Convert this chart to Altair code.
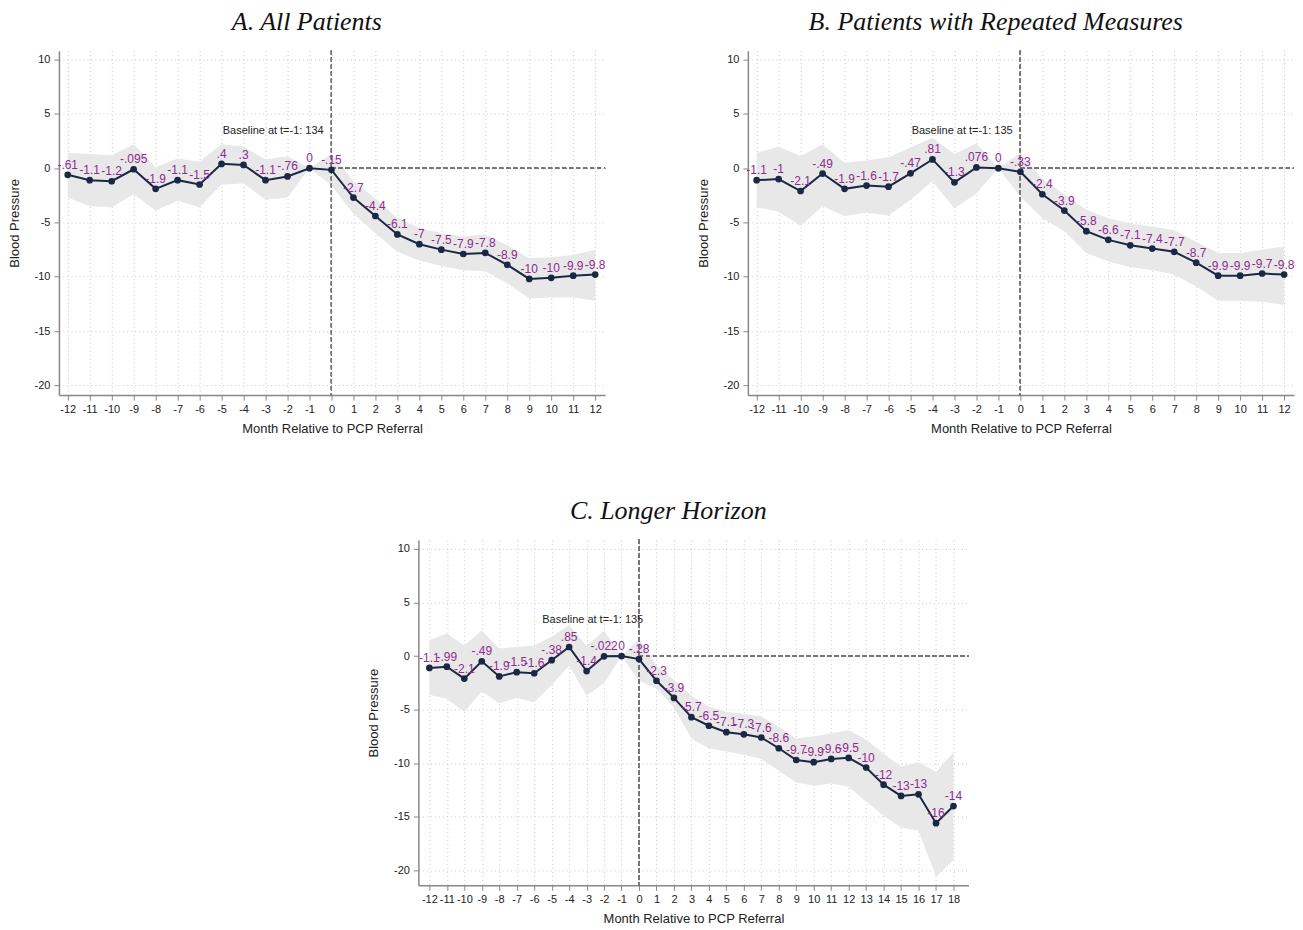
import altair as alt
import pandas as pd

# ---------------- Panel A: All Patients ----------------
months_a = list(range(-12, 13))
coef_a = [-0.61, -1.1, -1.2, -0.095, -1.9, -1.1, -1.5, 0.4, 0.3, -1.1, -0.76, 0.0, -0.15,
          -2.7, -4.4, -6.1, -7.0, -7.5, -7.9, -7.8, -8.9, -10.2, -10.1, -9.9, -9.8]
lab_a = ["-.61", "-1.1", "-1.2", "-.095", "-1.9", "-1.1", "-1.5", ".4", ".3", "-1.1", "-.76", "0", "-.15",
         "-2.7", "-4.4", "-6.1", "-7", "-7.5", "-7.9", "-7.8", "-8.9", "-10", "-10", "-9.9", "-9.8"]
hi_a = [1.4, 1.3, 1.2, 2.2, 0.1, 0.9, 0.6, 2.2, 2.0, 0.8, 1.1, 0.0, 1.3,
        -1.2, -2.8, -4.6, -5.5, -6.0, -6.3, -6.1, -7.1, -8.3, -8.2, -8.0, -7.5]
lo_a = [-2.7, -3.5, -3.6, -2.4, -3.9, -3.0, -3.6, -1.5, -1.4, -2.9, -2.7, 0.0, -1.6,
        -4.2, -6.0, -7.7, -8.5, -9.0, -9.4, -9.5, -10.6, -12.0, -11.9, -11.9, -12.2]

# ---------------- Panel B: Patients with Repeated Measures ----------------
months_b = list(range(-12, 13))
coef_b = [-1.1, -1.0, -2.1, -0.49, -1.9, -1.6, -1.7, -0.47, 0.81, -1.3, 0.076, 0.0, -0.33,
          -2.4, -3.9, -5.8, -6.6, -7.1, -7.4, -7.7, -8.7, -9.9, -9.9, -9.7, -9.8]
lab_b = ["-1.1", "-1", "-2.1", "-.49", "-1.9", "-1.6", "-1.7", "-.47", ".81", "-1.3", ".076", "0", "-.33",
         "-2.4", "-3.9", "-5.8", "-6.6", "-7.1", "-7.4", "-7.7", "-8.7", "-9.9", "-9.9", "-9.7", "-9.8"]
hi_b = [1.4, 2.0, 1.1, 2.2, 0.5, 0.7, 1.0, 1.9, 2.8, 1.3, 2.3, 0.0, 1.4,
        -1.0, -2.4, -3.8, -4.6, -5.1, -5.4, -5.7, -6.8, -7.8, -7.8, -7.5, -7.2]
lo_b = [-3.6, -4.0, -5.3, -3.5, -4.4, -4.1, -4.35, -2.9, -1.2, -3.7, -2.3, 0.0, -2.6,
        -4.6, -5.8, -7.8, -8.6, -9.1, -9.4, -9.8, -10.9, -12.2, -12.2, -12.3, -12.6]

# ---------------- Panel C: Longer Horizon ----------------
months_c = list(range(-12, 19))
coef_c = [-1.1, -0.99, -2.1, -0.49, -1.9, -1.5, -1.6, -0.38, 0.85, -1.4, -0.022, 0.0, -0.28,
          -2.3, -3.9, -5.7, -6.5, -7.1, -7.3, -7.6, -8.6, -9.7, -9.9, -9.6, -9.5,
          -10.4, -12.0, -13.05, -12.9, -15.6, -14.0]
lab_c = ["-1.1", "-.99", "-2.1", "-.49", "-1.9", "-1.5", "-1.6", "-.38", ".85", "-1.4", "-.022", "0", "-.28",
         "-2.3", "-3.9", "-5.7", "-6.5", "-7.1", "-7.3", "-7.6", "-8.6", "-9.7", "-9.9", "-9.6", "-9.5",
         "-10", "-12", "-13", "-13", "-16", "-14"]
hi_c = [1.5, 2.1, 1.0, 2.4, 0.7, 0.85, 1.0, 1.8, 2.9, 0.95, 2.4, 0.0, 1.6,
        -0.9, -2.2, -3.7, -4.7, -5.2, -5.4, -5.6, -6.6, -7.7, -7.5, -7.2, -6.9,
        -7.8, -9.1, -10.3, -9.9, -10.8, -9.0]
lo_c = [-3.6, -4.0, -5.2, -3.3, -4.4, -3.9, -4.3, -2.7, -0.9, -3.7, -2.5, 0.0, -2.3,
        -3.0, -4.8, -7.7, -8.6, -8.9, -9.2, -9.6, -10.7, -11.8, -12.1, -11.9, -12.2,
        -13.6, -14.9, -16.0, -16.3, -20.6, -19.0]

titles = ["A. All Patients", "B. Patients with Repeated Measures", "C. Longer Horizon"]
baselines = ["Baseline at t=-1: 134", "Baseline at t=-1: 135", "Baseline at t=-1: 135"]
y_ticks = [10, 5, 0, -5, -10, -15, -20]

NAVY = "#1b2845"
PURPLE = "#8f2a91"
BAND = "#e8e8e8"
FONT = "Liberation Sans"


def panel(months, coef, lab, lo, hi, title, baseline, xdom, ydom, w, h):
    df = pd.DataFrame({"m": months, "b": coef, "lab": lab, "lo": lo, "hi": hi})
    xs = alt.Scale(domain=xdom, nice=False, zero=False)
    ys = alt.Scale(domain=ydom, nice=False, zero=False)
    xax = alt.Axis(values=months, labelExpr="toString(datum.value)",
                   title="Month Relative to PCP Referral",
                   grid=True, gridDash=[1, 3], gridColor="#c8c8c8", labelFlush=False,
                   domainColor="#888", tickColor="#888", tickSize=5, labelFontSize=11,
                   labelColor="#222", titleFontSize=13, titleFontWeight="normal",
                   titleColor="#222", labelPadding=3, titlePadding=8, labelFont=FONT,
                   titleFont=FONT, labelOverlap=False)
    yax = alt.Axis(values=y_ticks, labelExpr="toString(datum.value)", title="Blood Pressure",
                   grid=True, gridDash=[1, 3], gridColor="#c8c8c8",
                   domainColor="#888", tickColor="#888", tickSize=5, labelFontSize=11,
                   labelColor="#222", titleFontSize=13, titleFontWeight="normal",
                   titleColor="#222", labelPadding=4, titlePadding=13, labelFont=FONT,
                   titleFont=FONT, labelOverlap=False)
    X = alt.X("m:Q", scale=xs, axis=xax)
    Y = alt.Y("b:Q", scale=ys, axis=yax)
    base = alt.Chart(df)
    band = base.mark_area(color=BAND, opacity=1).encode(
        x=X, y=alt.Y("lo:Q", scale=ys, axis=yax), y2="hi:Q")
    vline = base.mark_rule(color="#777", strokeDash=[4, 3], strokeWidth=1).encode(
        x=alt.X(datum=0, scale=xs, axis=xax), y=alt.value(0), y2=alt.value(h))
    hline = base.mark_rule(color="#777", strokeDash=[4, 3], strokeWidth=1).encode(
        x=alt.X(datum=0, scale=xs, axis=xax), x2=alt.value(w),
        y=alt.Y(datum=0, scale=ys, axis=yax))
    line = base.mark_line(color=NAVY, strokeWidth=2).encode(x=X, y=Y)
    pts = base.mark_circle(color=NAVY, size=45, opacity=1).encode(x=X, y=Y)
    txt = base.mark_text(color=PURPLE, fontSize=12, dy=-10, font=FONT).encode(
        x=X, y=Y, text="lab:N")
    note = alt.Chart(pd.DataFrame({"t": [baseline]})).mark_text(
        fontSize=11, color="#222", font=FONT).encode(
        x=alt.X(datum=-2.65, scale=xs, axis=xax),
        y=alt.Y(datum=3.4, scale=ys, axis=yax), text="t:N")
    return alt.layer(band, vline, hline, line, pts, txt, note).properties(
        width=w, height=h,
        title=alt.TitleParams(title, font="Liberation Serif", fontStyle="italic",
                              fontWeight="normal", fontSize=26, color="#111",
                              anchor="middle", frame="bounds", offset=15))


pa = panel(months_a, coef_a, lab_a, lo_a, hi_a, titles[0], baselines[0],
           [-12.4, 12.45], [-20.9, 10.83], 547, 345)
pb = panel(months_b, coef_b, lab_b, lo_b, hi_b, titles[1], baselines[1],
           [-12.4, 12.45], [-20.9, 10.83], 547, 345)
pc = panel(months_c, coef_c, lab_c, lo_c, hi_c, titles[2], baselines[2],
           [-12.63, 18.86], [-21.4, 10.85], 551, 346)

spacer = alt.Chart(pd.DataFrame({"a": [0]})).mark_point(opacity=0).encode(
    x=alt.X("a:Q", axis=None), y=alt.Y("a:Q", axis=None)).properties(width=309, height=1)

top = alt.hconcat(pa, pb, spacing=91)
bottom = alt.hconcat(spacer, pc, spacing=0)
chart = alt.vconcat(top, bottom, spacing=63).properties(
    padding={"left": 0, "top": 0, "right": 0, "bottom": 0}
).configure_view(stroke=None).configure_axis(domainWidth=1.5)

chart.save("out.html", embed_options={"renderer": "svg", "actions": False})
